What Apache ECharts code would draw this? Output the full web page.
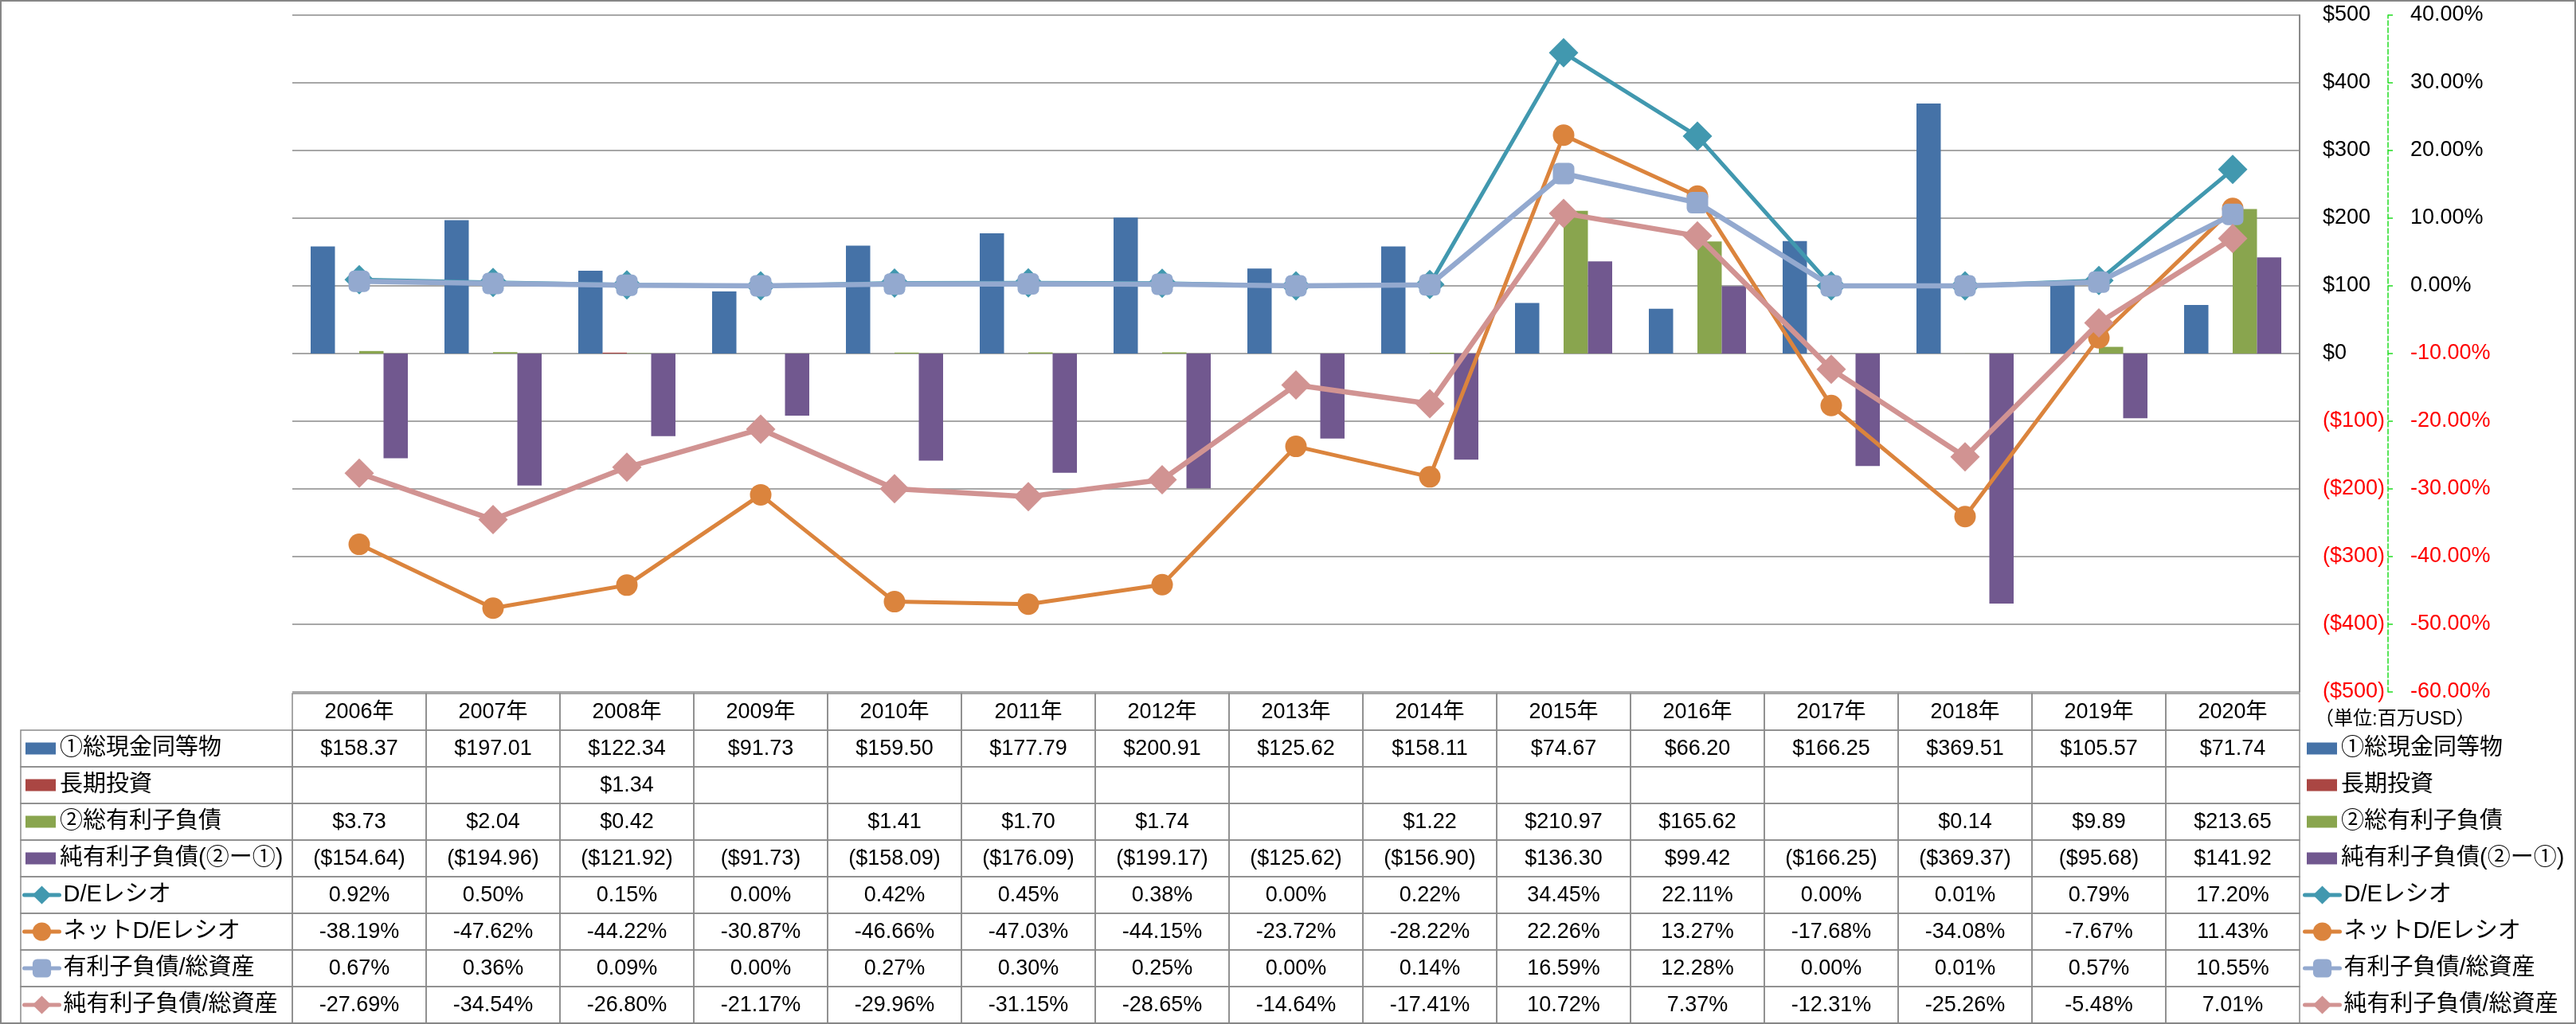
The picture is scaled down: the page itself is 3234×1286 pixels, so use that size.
<!DOCTYPE html>
<html>
<head>
<meta charset="utf-8">
<script src="https://cdn.jsdelivr.net/npm/echarts@6/dist/echarts.min.js"></script>
<style>
html,body{margin:0;padding:0;background:#fff;}
#c{width:3234px;height:1286px;}
</style>
</head>
<body>
<div id="c"></div>
<script>
// ---------------- data ----------------
const years = ['2006年','2007年','2008年','2009年','2010年','2011年','2012年','2013年','2014年','2015年','2016年','2017年','2018年','2019年','2020年'];
const cash = [158.37,197.01,122.34,91.73,159.50,177.79,200.91,125.62,158.11,74.67,66.20,166.25,369.51,105.57,71.74];
const ltInvest = [null,null,1.34,null,null,null,null,null,null,null,null,null,null,null,null];
const debt = [3.73,2.04,0.42,null,1.41,1.70,1.74,null,1.22,210.97,165.62,null,0.14,9.89,213.65];
const netDebt = [-154.64,-194.96,-121.92,-91.73,-158.09,-176.09,-199.17,-125.62,-156.90,136.30,99.42,-166.25,-369.37,-95.68,141.92];
const deRatio = [0.92,0.50,0.15,0.00,0.42,0.45,0.38,0.00,0.22,34.45,22.11,0.00,0.01,0.79,17.20];
const netDeRatio = [-38.19,-47.62,-44.22,-30.87,-46.66,-47.03,-44.15,-23.72,-28.22,22.26,13.27,-17.68,-34.08,-7.67,11.43];
const debtToAssets = [0.67,0.36,0.09,0.00,0.27,0.30,0.25,0.00,0.14,16.59,12.28,0.00,0.01,0.57,10.55];
const netDebtToAssets = [-27.69,-34.54,-26.80,-21.17,-29.96,-31.15,-28.65,-14.64,-17.41,10.72,7.37,-12.31,-25.26,-5.48,7.01];
const seriesNames = ['①総現金同等物','長期投資','②総有利子負債','純有利子負債(②ー①)','D/Eレシオ','ネットD/Eレシオ','有利子負債/総資産','純有利子負債/総資産'];
const unitLabel = '（単位:百万USD）';
const dollarAxis = {min:-500, max:500, interval:100};
const pctAxis = {min:-60, max:40, interval:10};

// ---------------- styling / layout ----------------
const barColors = ['#4572A7','#AA4643','#89A54E','#71588F'];
const lineColors = ['#4198AF','#DB843D','#93A9CF','#D19392'];
const FONT = "'Liberation Sans','Noto Sans CJK JP',sans-serif";
const PLOT_LEFT = 367, PLOT_RIGHT = 347, PLOT_TOP = 19, PLOT_H = 850;
const TABLE_TOP = 871, ROW_H = 46, TABLE_LEFT = 26;
const GRID_COLOR = '#8a8a8a';

const fmtDollar = v => v == null ? '' : (v < 0 ? '($' + (-v).toFixed(2) + ')' : '$' + v.toFixed(2));
const fmtPct = v => v == null ? '' : v.toFixed(2) + '%';

const dollarRows = [cash, ltInvest, debt, netDebt];
const pctRows = [deRatio, netDeRatio, debtToAssets, netDebtToAssets];
const tableText = [years.slice()]
  .concat(dollarRows.map(r => r.map(fmtDollar)))
  .concat(pctRows.map(r => r.map(fmtPct)));
const rowCats = ['hdr'].concat(seriesNames);
const cellData = [];
for (let r = 0; r < tableText.length; r++) {
  for (let c = 0; c < years.length; c++) cellData.push([c, r]);
}

const chart = echarts.init(document.getElementById('c'), null, {renderer: 'canvas'});

const barSeries = dollarRows.map((d, i) => ({
  name: seriesNames[i], type: 'bar', xAxisIndex: 0, yAxisIndex: 0,
  data: d, barWidth: 30.5, barGap: '0%',
  itemStyle: {color: barColors[i]}
}));
const lineDefs = [
  {symbol: 'diamond', size: 37, width: 5},
  {symbol: 'circle', size: 27, width: 5},
  {symbol: 'roundRect', size: 27, width: 6.5},
  {symbol: 'diamond', size: 37, width: 6.5}
];
const lineSeries = pctRows.map((d, i) => ({
  name: seriesNames[4 + i], type: 'line', xAxisIndex: 0, yAxisIndex: 1,
  data: d, symbol: lineDefs[i].symbol, symbolSize: lineDefs[i].size,
  lineStyle: {color: lineColors[i], width: lineDefs[i].width},
  itemStyle: {color: lineColors[i]},
  z: 3 + i
}));

const tableSeries = {
  type: 'custom', xAxisIndex: 1, yAxisIndex: 2, data: cellData, silent: true,
  renderItem: function (params, api) {
    const c = api.value(0), r = api.value(1);
    const ctr = api.coord([c, r]);
    const sz = api.size([1, 1]);
    const x0 = ctr[0] - sz[0] / 2, y0 = ctr[1] - sz[1] / 2;
    const children = [{
      type: 'rect', shape: {x: x0, y: y0, width: sz[0], height: sz[1]},
      style: {fill: null, stroke: GRID_COLOR, lineWidth: 1.5}
    }, {
      type: 'text',
      style: {text: tableText[r][c], x: ctr[0], y: ctr[1] + 1, align: 'center', verticalAlign: 'middle',
        font: '27px ' + FONT, fill: '#000'}
    }];
    if (c === 0 && r > 0) {
      children.push({
        type: 'rect', shape: {x: TABLE_LEFT, y: y0, width: x0 - TABLE_LEFT, height: sz[1]},
        style: {fill: null, stroke: GRID_COLOR, lineWidth: 1.5}
      });
    }
    return {type: 'group', children: children};
  }
};

const legendText = {fontSize: 29, lineHeight: 30, fontFamily: FONT, color: '#000'};
const barLegTop = TABLE_TOP + ROW_H + (ROW_H - 30) / 2;
const lineLegTop = TABLE_TOP + ROW_H * 5 + (ROW_H - 30) / 2;
function mkLegends(leftBar, leftLine) {
  return [{
    orient: 'vertical', left: leftBar, top: barLegTop, itemWidth: 38, itemHeight: 15,
    itemGap: ROW_H - 30, icon: 'rect', selectedMode: false, data: seriesNames.slice(0, 4),
    textStyle: legendText, padding: 0
  }, {
    orient: 'vertical', left: leftLine, top: lineLegTop, itemWidth: 44, itemHeight: 29,
    itemGap: ROW_H - 30, selectedMode: false, data: seriesNames.slice(4),
    lineStyle: {width: 5, cap: 'round'},
    textStyle: legendText, padding: 0
  }];
}

const option = {
  animation: false,
  backgroundColor: '#fff',
  grid: [
    {left: PLOT_LEFT, right: PLOT_RIGHT, top: PLOT_TOP, height: PLOT_H},
    {left: PLOT_LEFT, right: PLOT_RIGHT, top: TABLE_TOP, height: ROW_H * 9}
  ],
  legend: mkLegends(32, 28).concat(mkLegends(2896, 2891)),
  xAxis: [
    {type: 'category', gridIndex: 0, data: years, show: false},
    {type: 'category', gridIndex: 1, data: years, show: false}
  ],
  yAxis: [
    {
      type: 'value', gridIndex: 0, position: 'right',
      min: dollarAxis.min, max: dollarAxis.max, interval: dollarAxis.interval,
      axisLine: {show: true, lineStyle: {color: GRID_COLOR, width: 2}},
      axisTick: {show: false},
      splitLine: {show: true, lineStyle: {color: GRID_COLOR, width: 1.5}},
      axisLabel: {
        margin: 29, fontSize: 27, fontFamily: FONT,
        formatter: v => v < 0 ? '($' + (-v) + ')' : '$' + v,
        color: v => parseFloat(v) < 0 ? '#FF0000' : '#000'
      }
    },
    {
      type: 'value', gridIndex: 0, position: 'right', offset: 111,
      min: pctAxis.min, max: pctAxis.max, interval: pctAxis.interval,
      axisLine: {show: true, lineStyle: {color: '#22dd22', width: 1.5, type: 'dashed'}},
      axisTick: {show: true, length: 9, lineStyle: {color: '#22dd22', width: 1.5, type: 'dashed'}},
      splitLine: {show: false},
      axisLabel: {
        margin: 28, fontSize: 27, fontFamily: FONT,
        formatter: v => v.toFixed(2) + '%',
        color: v => parseFloat(v) < 0 ? '#FF0000' : '#000'
      }
    },
    {type: 'category', gridIndex: 1, data: rowCats, inverse: true, show: false}
  ],
  graphic: [
    {type: 'rect', silent: true, shape: {x: 1, y: 1, width: 3232, height: 1284},
      style: {fill: null, stroke: '#868686', lineWidth: 2}, z: 100},
    {type: 'text', silent: true, x: 2906, y: 903,
      style: {text: unitLabel, font: '24px ' + FONT, fill: '#000', verticalAlign: 'middle'}}
  ],
  series: barSeries.concat(lineSeries).concat([tableSeries])
};
chart.setOption(option);
</script>
</body>
</html>
